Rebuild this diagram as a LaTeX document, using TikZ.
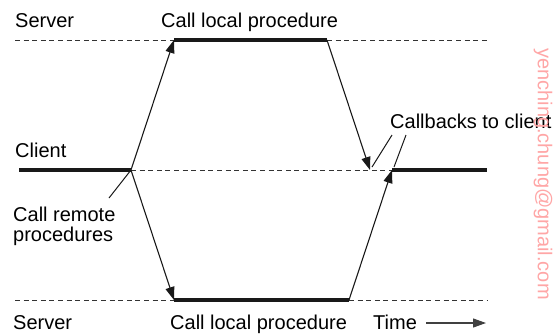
\documentclass[tikz,border=0pt]{standalone}
\usepackage{fontspec}
\setmainfont{Liberation Sans}
\usetikzlibrary{arrows.meta}
\tikzset{
	lbl/.style={anchor=base west,inner sep=0pt,align=left,font=\fontsize{20}{20}\selectfont},
	busy/.style={line width=4.5pt,color=black!90},
	idle/.style={dash pattern=on 5pt off 3.6pt,line width=0.8pt,color=black!80},
	call/.style={-{Triangle[length=13pt,width=9pt]},line width=1.1pt,color=black!90},
	hint/.style={line width=1pt,color=black!90}
}
\begin{document}
\begin{tikzpicture}[x=1pt,y=-1pt]
	\useasboundingbox (0,0) rectangle (554,333);
	\coordinate (T0) at (15,40);
	\coordinate (T1) at (174,40);
	\coordinate (T2) at (327,40);
	\coordinate (T3) at (487,40);
	\coordinate (C0) at (19,170);
	\coordinate (C1) at (131,170);
	\coordinate (C2) at (370,170);
	\coordinate (C3) at (392,170);
	\coordinate (C4) at (487,170);
	\coordinate (B0) at (15,300);
	\coordinate (B1) at (174,300);
	\coordinate (B2) at (349,300);
	\coordinate (B3) at (487,300);
	\coordinate (P0) at (109,198);
	\coordinate (P1) at (392,135);
	\coordinate (P2) at (372,167);
	\coordinate (P3) at (406,135);
	\coordinate (P4) at (394,167);
	\coordinate (A0) at (426,323);
	\coordinate (A1) at (486,323);
	\node[lbl] (L0) at (15,27) {Server};
	\node[lbl] (L1) at (161,27) {Call local procedure};
	\node[lbl] (L2) at (15,157) {Client};
	\node[lbl] (L3) at (390,128) {Callbacks to client};
	\node[lbl,anchor=north west] (L4) at (13,207) {Call remote\\procedures};
	\node[lbl] (L5) at (13,329) {Server};
	\node[lbl] (L6) at (170,329) {Call local procedure};
	\node[lbl] (L7) at (373,329) {Time};
	\node[rotate=-90,inner sep=0pt,color=red!35,font=\fontsize{20}{20}\selectfont] (W) at (543,174) {yenching.chung@gmail.com};
	\draw[idle] (T0) -- (T1) (T2) -- (T3)
	     (C1) -- (C3)
	     (B0) -- (B1) (B2) -- (B3);
	\path[busy]
	     (T1) edge (T2)  (C0) edge (C1)
	     (C3) edge (C4)  (B1) edge (B2);
	\path[call]
	     (C1) edge (T1)  (C1) edge (B1)
	     (T2) edge (C2)  (B2) edge (C3);
	\path[hint]
	     (C1) edge (P0)
	     (P1) edge (P2)  (P3) edge (P4);
	\draw[call,color=black!75,line width=1.2pt] (A0) -- (A1);
\end{tikzpicture}
\end{document}
